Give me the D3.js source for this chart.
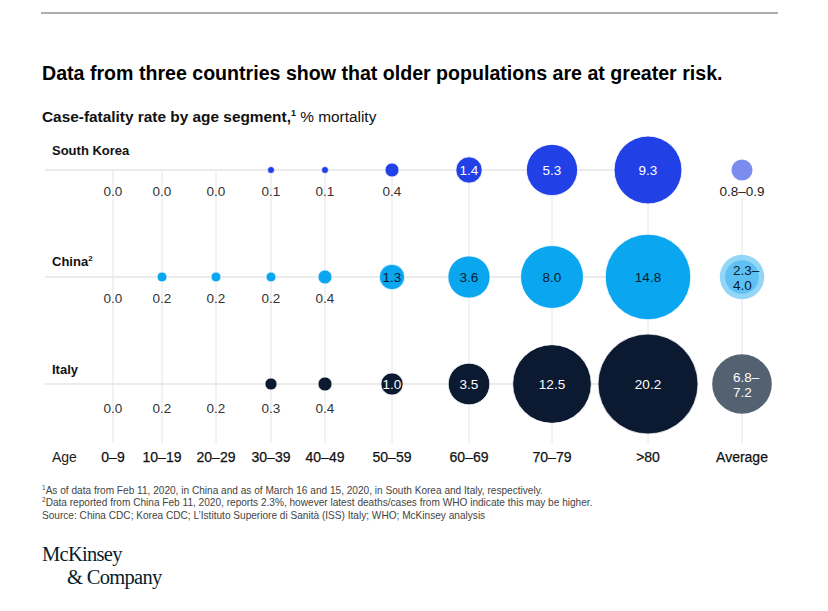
<!DOCTYPE html>
<html><head><meta charset="utf-8">
<script src="https://cdn.jsdelivr.net/npm/d3@7"></script>
<style>
html,body{margin:0;padding:0;background:#fff;}
svg{display:block;font-family:"Liberation Sans",Arial,sans-serif;}
</style></head>
<body><svg id="chart" width="828" height="611"></svg>
<script>
// ---- data ----
const ages = ["0–9","10–19","20–29","30–39","40–49","50–59","60–69","70–79",">80"];
const countries = ["South Korea","China","Italy"];
const southKorea = [0.0,0.0,0.0,0.1,0.1,0.4,1.4,5.3,9.3];
const china      = [0.0,0.2,0.2,0.2,0.4,1.3,3.6,8.0,14.8];
const italy      = [0.0,0.2,0.2,0.3,0.4,1.0,3.5,12.5,20.2];
const italyBubbleShown = [false,false,false,true,true,true,true,true,true];
const avgSouthKorea = [0.8,0.9];
const avgChina = [2.3,4.0];
const avgItaly = [6.8,7.2];
const avgLabel = "Average";

const title = "Data from three countries show that older populations are at greater risk.";
const footnotes = [
  ["1","As of data from Feb 11, 2020, in China and as of March 16 and 15, 2020, in South Korea and Italy, respectively."],
  ["2","Data reported from China Feb 11, 2020, reports 2.3%, however latest deaths/cases from WHO indicate this may be higher."],
  [""," Source: China CDC; Korea CDC; L’Istituto Superiore di Sanità (ISS) Italy; WHO; McKinsey analysis"]
];

// ---- layout / style ----
const svg = d3.select("#chart");
const rows = [
  {name:"South Korea", sup:"", values:southKorea, shown:southKorea.map(v=>v>0), avg:avgSouthKorea,
   fill:"#2140e6", text:"#ffffff", avgOuter:"#8596ef", avgInner:"#7a8dee", avgText:"#222", labelOff:21, nameOff:-20},
  {name:"China", sup:"2", values:china, shown:china.map(v=>v>0), avg:avgChina,
   fill:"#0aa6ef", text:"#051c2c", avgOuter:"#93d6f8", avgInner:"#5ec0f3", avgText:"#051c2c", labelOff:21, nameOff:-16},
  {name:"Italy", sup:"", values:italy, shown:italyBubbleShown, avg:avgItaly,
   fill:"#0b1a30", text:"#ffffff", avgOuter:"#5b6976", avgInner:"#536170", avgText:"#ffffff", labelOff:24, nameOff:-15}
];

const x = d3.scaleOrdinal().domain([...ages, avgLabel]).range([113,162,216,271,325,392,469,552,648,742]);
const y = d3.scaleOrdinal().domain(countries).range([170,277,384]);
const r = d3.scaleSqrt().domain([0,20.2]).range([0,50]);

// top rule
svg.append("line").attr("x1",41).attr("x2",778).attr("y1",13).attr("y2",13)
  .attr("stroke","#adadad").attr("stroke-width",2);

// title
svg.append("text").attr("x",42).attr("y",80).attr("font-size",19.6).attr("font-weight","bold")
  .attr("fill","#000").text(title);

// subtitle
const st = svg.append("text").attr("x",42).attr("y",122).attr("font-size",15.4).attr("fill","#111");
st.append("tspan").attr("font-weight","bold").text("Case-fatality rate by age segment,");
st.append("tspan").attr("font-weight","bold").attr("font-size",9).attr("dy",-6).text("1");
st.append("tspan").attr("dy",6).text(" % mortality");

// grid vertical lines
const gridG = svg.append("g");
[...ages, avgLabel].forEach(a=>{
  gridG.append("line").attr("x1",x(a)).attr("x2",x(a))
    .attr("y1", a===avgLabel ? 198 : y("South Korea")).attr("y2",443)
    .attr("stroke","#e4e4e4").attr("stroke-width",1);
});
// row lines
rows.forEach(row=>{
  gridG.append("line").attr("x1",45).attr("x2",x(">80"))
    .attr("y1",y(row.name)).attr("y2",y(row.name))
    .attr("stroke","#e4e4e4").attr("stroke-width",1.5);
});

// rows
rows.forEach(row=>{
  const g = svg.append("g");
  const cy = y(row.name);
  const nt = g.append("text").attr("x",52).attr("y",cy+row.nameOff).attr("dy","0.35em")
    .attr("font-size",13).attr("font-weight","bold").attr("fill","#111").text(row.name);
  if(row.sup) nt.append("tspan").attr("font-size",8).attr("dy",-5).text(row.sup);

  const data = ages.map((a,i)=>({age:a, v:row.values[i], shown:row.shown[i]}));
  g.selectAll("circle.b").data(data.filter(d=>d.shown && d.v>0)).join("circle")
    .attr("class","b").attr("cx",d=>x(d.age)).attr("cy",cy).attr("r",d=>r(d.v))
    .attr("fill",row.fill).attr("stroke","#fff").attr("stroke-width",0.8);
  g.selectAll("text.v").data(data).join("text").attr("class","v")
    .attr("x",d=>x(d.age)).attr("text-anchor","middle")
    .attr("y",d=>d.v>=1 ? cy : cy+row.labelOff).attr("dy","0.36em")
    .attr("font-size",13.5)
    .attr("fill",d=>d.v>=1 ? row.text : "#333")
    .text(d=>d3.format(".1f")(d.v));

  const ax = x(avgLabel);
  const [lo,hi] = row.avg;
  g.append("circle").attr("cx",ax).attr("cy",cy).attr("r",r(hi)).attr("fill",row.avgOuter);
  g.append("circle").attr("cx",ax).attr("cy",cy).attr("r",r(lo)).attr("fill",row.avgInner);
  const fmt = d3.format(".1f");
  if (r(hi) < 15) {
    g.append("text").attr("x",ax).attr("y",cy+row.labelOff).attr("dy","0.36em")
      .attr("text-anchor","middle").attr("font-size",13.5).attr("fill","#222")
      .text(fmt(lo)+"–"+fmt(hi));
  } else {
    const t = g.append("text").attr("font-size",13.5).attr("fill",row.avgText);
    t.append("tspan").attr("x",ax-9).attr("y",cy-7).attr("dy","0.36em").text(fmt(lo)+"–");
    t.append("tspan").attr("x",ax-9).attr("y",cy+8).attr("dy","0.36em").text(fmt(hi));
  }
});

// age axis labels
svg.append("text").attr("x",52).attr("y",457).attr("dy","0.36em").attr("font-size",14)
  .attr("fill","#222").text("Age");
svg.selectAll("text.age").data([...ages, avgLabel]).join("text").attr("class","age")
  .attr("x",d=>x(d)).attr("y",457).attr("dy","0.36em").attr("text-anchor","middle")
  .attr("font-size",14).attr("fill","#111").attr("stroke","#111").attr("stroke-width",0.25)
  .text(d=>d);

// footnotes
footnotes.forEach((f,i)=>{
  const t = svg.append("text").attr("x",42).attr("y",494+i*12.3).attr("font-size",10.1).attr("fill","#444");
  if(f[0]) t.append("tspan").attr("font-size",6.5).attr("dy",-4).text(f[0]);
  t.append("tspan").attr("dy",f[0]?4:0).text(f[1]);
});

// logo
const logo = svg.append("g").attr("font-family","'Liberation Serif','DejaVu Serif',serif").attr("fill","#051c2c");
logo.append("text").attr("x",42).attr("y",561).attr("font-size",20.5).attr("letter-spacing",-0.7).text("McKinsey");
logo.append("text").attr("x",67).attr("y",584).attr("font-size",20.5).attr("letter-spacing",-0.7).text("& Company");
</script></body></html>
